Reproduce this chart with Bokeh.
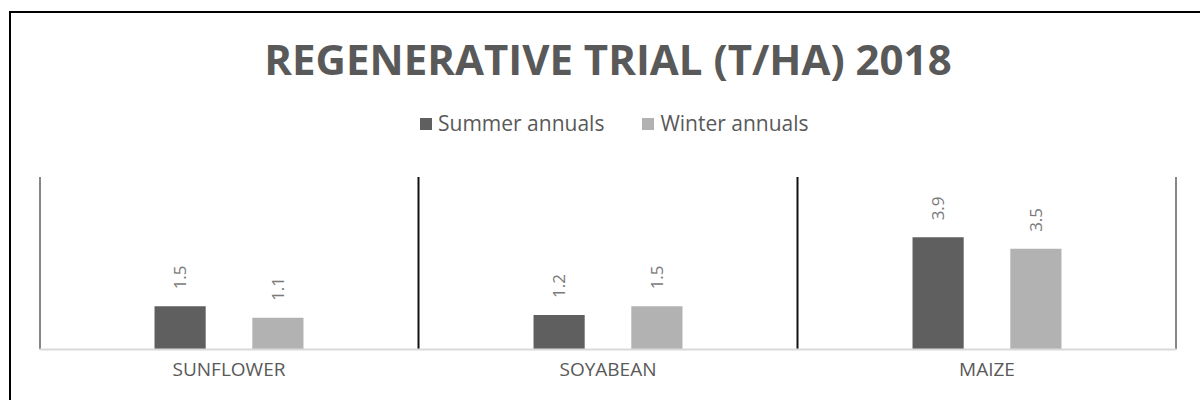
from math import pi
from bokeh.plotting import figure
from bokeh.models import (FactorRange, Range1d, Legend, LegendItem,
                          ColumnDataSource, Label, InlineStyleSheet)
from bokeh.transform import dodge
from bokeh.embed import file_html
from bokeh.resources import INLINE
from bokeh.core.properties import value

categories = ["SUNFLOWER", "SOYABEAN", "MAIZE"]
summer = [1.5, 1.2, 3.9]
winter = [1.1, 1.5, 3.5]
series_names = ["Summer annuals", "Winter annuals"]
title_text = "REGENERATIVE TRIAL (T/HA) 2018"
y_max = 6

FONT = "Open Sans"
SUMMER_COLOR = "#5f5f5f"
WINTER_COLOR = "#b2b2b2"
TEXT_COLOR = "#595959"

# layout (pixels)
W, H = 1184, 384
LEFT, RIGHT, BOTTOM = 39, 8, 32
FRAME_H = H - BOTTOM          # frame reaches the top of the canvas
PLOT_H = 174                  # height of the bar area (0 .. y_max)
px = y_max / PLOT_H           # data units per pixel
y_top = FRAME_H * px

src = ColumnDataSource(dict(
    cat=categories,
    summer=summer,
    winter=winter,
    summer_lbl=[f"{v:.1f}" for v in summer],
    winter_lbl=[f"{v:.1f}" for v in winter],
))

p = figure(width=W, height=H,
           x_range=FactorRange(factors=categories, range_padding=0),
           y_range=Range1d(0, y_top),
           output_backend="svg", toolbar_location=None,
           min_border_left=LEFT, min_border_right=RIGHT,
           min_border_top=0, min_border_bottom=BOTTOM)

p.outline_line_color = None
p.xgrid.visible = False
p.ygrid.visible = False
p.yaxis.visible = False

off = 0.129
bw = 0.135
r1 = p.vbar(x=dodge("cat", -off, range=p.x_range), top="summer", width=bw,
            source=src, fill_color=SUMMER_COLOR, line_color=None)
r2 = p.vbar(x=dodge("cat", off, range=p.x_range), top="winter", width=bw,
            source=src, fill_color=WINTER_COLOR, line_color=None)

for col, lbl, o in (("summer", "summer_lbl", -off), ("winter", "winter_lbl", off)):
    p.text(x=dodge("cat", o, range=p.x_range), y=col, text=lbl, source=src,
           angle=pi / 2, text_align="left", text_baseline="middle",
           y_offset=-17, text_font=value(FONT), text_font_size="17px",
           text_color="#7a7a7a")

# category separators (category boundaries)
bounds = list(range(len(categories) + 1))
p.segment(x0=bounds, y0=[0] * len(bounds), x1=bounds, y1=[y_max] * len(bounds),
          line_color="#111111", line_width=2)

xa = p.xaxis[0]
xa.axis_line_color = "#d9d9d9"
xa.axis_line_width = 2
xa.major_tick_line_color = None
xa.minor_tick_line_color = None
xa.major_tick_out = 0
xa.major_tick_in = 0
xa.minor_tick_out = 0
xa.major_label_standoff = 6
xa.major_label_text_font = FONT
xa.major_label_text_font_size = "19px"
xa.major_label_text_color = TEXT_COLOR

legend = Legend(items=[LegendItem(label=series_names[0], renderers=[r1]),
                       LegendItem(label=series_names[1], renderers=[r2])],
                orientation="horizontal", location=(379, 212),
                glyph_width=15, glyph_height=15, label_standoff=5,
                spacing=36, padding=0, margin=0,
                label_text_font=FONT, label_text_font_size="21px",
                label_text_color=TEXT_COLOR,
                background_fill_alpha=0, border_line_alpha=0)
p.add_layout(legend, "center")

p.add_layout(Label(x=len(categories) / 2, y=(FRAME_H - 59) * px,
                   text=title_text, text_align="center",
                   text_baseline="middle", text_font=FONT,
                   text_font_style="bold", text_font_size="42px",
                   text_color=TEXT_COLOR))

p.stylesheets = [InlineStyleSheet(css=(
    ":host { position: relative; }"
    ":host::after { content: ''; position: absolute; left: 9px; top: 11px;"
    " right: -16px; bottom: -16px; border-left: 2px solid #000;"
    " border-top: 2px solid #000; pointer-events: none; }"))]

open("out.html", "w").write(file_html(p, INLINE))
